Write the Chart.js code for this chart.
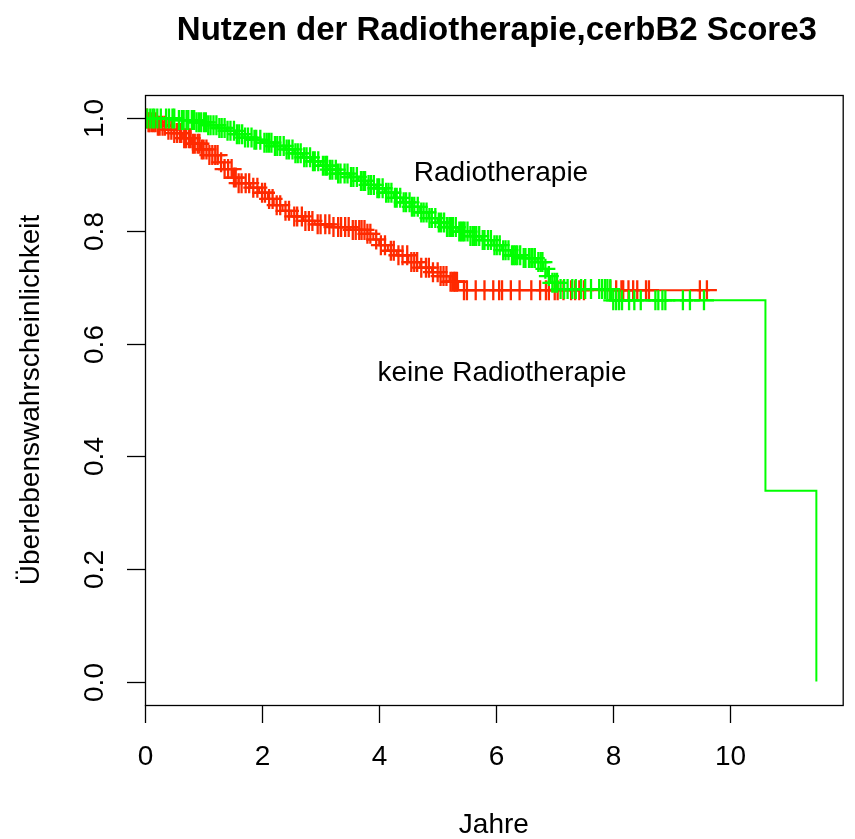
<!DOCTYPE html>
<html>
<head>
<meta charset="utf-8">
<script src="https://cdn.jsdelivr.net/npm/chart.js@4.4.1/dist/chart.umd.min.js"></script>
<style>
  html, body { margin: 0; padding: 0; background: #fff; }
  #wrap { width: 855px; height: 839px; }
</style>
</head>
<body>
<div id="wrap"><canvas id="km" width="855" height="839"></canvas></div>
<script>
// Kaplan-Meier steps (time in years, survival)
const radioTimes = [0, 0.55, 0.85, 1.05, 1.25, 1.4, 1.55, 1.7, 1.85, 2.0, 2.2, 2.4, 2.55, 2.7, 2.85, 3.0, 3.15, 3.3, 3.5, 3.65, 3.8, 3.95, 4.1, 4.25, 4.4, 4.55, 4.7, 4.85, 5.0, 5.15, 5.35, 5.55, 5.75, 5.95, 6.1, 6.25, 6.45, 6.7, 6.8, 6.87, 6.93, 7.05, 7.97, 10.6, 11.47];
const radioSurv  = [1.0, 0.997, 0.993, 0.988, 0.983, 0.978, 0.972, 0.966, 0.962, 0.957, 0.951, 0.945, 0.938, 0.931, 0.924, 0.916, 0.909, 0.902, 0.896, 0.889, 0.882, 0.876, 0.868, 0.859, 0.851, 0.843, 0.833, 0.823, 0.815, 0.807, 0.799, 0.791, 0.784, 0.775, 0.766, 0.757, 0.752, 0.745, 0.733, 0.72, 0.708, 0.697, 0.677, 0.339, 0.0];

const noRadioTimes = [0, 0.05, 0.2, 0.35, 0.5, 0.65, 0.8, 0.95, 1.1, 1.25, 1.35, 1.5, 1.6, 1.8, 1.95, 2.1, 2.2, 2.35, 2.5, 2.7, 2.9, 3.2, 3.5, 3.8, 3.9, 4.0, 4.15, 4.3, 4.5, 4.7, 4.9, 5.05, 5.2, 5.35, 9.6];
const noRadioSurv  = [1.0, 0.993, 0.987, 0.98, 0.974, 0.965, 0.955, 0.945, 0.935, 0.922, 0.91, 0.895, 0.885, 0.877, 0.868, 0.857, 0.846, 0.836, 0.826, 0.818, 0.812, 0.807, 0.802, 0.795, 0.785, 0.775, 0.765, 0.757, 0.745, 0.735, 0.727, 0.72, 0.71, 0.695, 0.695];

// censored observations (the "+" marks)
const radioCensor = [0.04, 0.09, 0.13, 0.16, 0.21, 0.27, 0.36, 0.41, 0.47, 0.5, 0.58, 0.63, 0.66, 0.71, 0.74, 0.8, 0.84, 0.88, 0.92, 0.96, 1.01, 1.04, 1.08, 1.12, 1.17, 1.22, 1.27, 1.31, 1.36, 1.41, 1.46, 1.52, 1.57, 1.61, 1.66, 1.71, 1.76, 1.82, 1.87, 1.9, 1.97, 2.04, 2.08, 2.12, 2.16, 2.22, 2.26, 2.31, 2.37, 2.42, 2.46, 2.52, 2.57, 2.61, 2.66, 2.72, 2.76, 2.82, 2.87, 2.9, 2.96, 3.04, 3.08, 3.11, 3.16, 3.2, 3.26, 3.3, 3.34, 3.41, 3.46, 3.52, 3.56, 3.62, 3.69, 3.73, 3.76, 3.82, 3.86, 3.91, 3.97, 4.0, 4.06, 4.12, 4.16, 4.21, 4.27, 4.3, 4.36, 4.42, 4.46, 4.52, 4.56, 4.6, 4.66, 4.72, 4.76, 4.81, 4.86, 4.9, 4.96, 5.02, 5.06, 5.11, 5.16, 5.2, 5.23, 5.26, 5.31, 5.37, 5.4, 5.43, 5.46, 5.51, 5.56, 5.6, 5.63, 5.66, 5.71, 5.77, 5.8, 5.86, 5.91, 5.97, 6.01, 6.06, 6.12, 6.16, 6.21, 6.27, 6.3, 6.33, 6.36, 6.41, 6.47, 6.5, 6.56, 6.6, 6.62, 6.66, 6.72, 6.76, 6.79, 6.84, 6.9, 6.96, 7.0, 7.04, 7.1, 7.16, 7.22, 7.3, 7.36, 7.45, 7.52, 7.62, 7.76, 7.81, 7.86, 7.9, 7.95, 8.0, 8.05, 8.1, 8.15, 8.27, 8.36, 8.47, 8.72, 8.77, 8.84, 8.89, 9.19, 9.31, 9.55];
const noRadioCensor = [0.03, 0.06, 0.08, 0.12, 0.15, 0.18, 0.22, 0.25, 0.3, 0.34, 0.4, 0.45, 0.5, 0.55, 0.6, 0.62, 0.67, 0.7, 0.75, 0.78, 0.82, 0.85, 0.9, 0.93, 0.97, 1.0, 1.05, 1.1, 1.15, 1.2, 1.24, 1.3, 1.36, 1.42, 1.48, 1.52, 1.55, 1.6, 1.65, 1.72, 1.78, 1.85, 1.92, 2.0, 2.05, 2.12, 2.18, 2.25, 2.31, 2.4, 2.46, 2.55, 2.6, 2.68, 2.74, 2.8, 2.86, 2.95, 3.0, 3.08, 3.15, 3.22, 3.3, 3.35, 3.42, 3.48, 3.55, 3.6, 3.66, 3.7, 3.75, 3.8, 3.85, 3.95, 4.03, 4.1, 4.2, 4.25, 4.33, 4.4, 4.48, 4.55, 4.6, 4.65, 4.72, 4.8, 4.85, 4.92, 5.0, 5.05, 5.1, 5.15, 5.22, 5.25, 5.28, 5.3, 5.33, 5.45, 5.5, 5.65, 5.8, 5.95, 6.05, 6.1, 6.25, 6.4, 6.6, 6.75, 6.85, 6.9, 7.0, 7.05, 7.15, 7.28, 7.35, 7.42, 7.5, 7.95, 8.05, 8.14, 8.17, 8.26, 8.34, 8.41, 8.56, 8.61, 9.48, 9.6];

const xTicks = [0, 2, 4, 6, 8, 10];
const yTicks = [0, 0.2, 0.4, 0.6, 0.8, 1.0];
const yTickLabels = ['0.0', '0.2', '0.4', '0.6', '0.8', '1.0'];

const GREEN = '#00ff00';
const RED = '#ff2a00';

function steps(times, surv) {
  return times.map((t, i) => ({ x: t, y: surv[i] }));
}
// survival value of the step curve at time t
function survAt(times, surv, t) {
  let s = surv[0];
  for (let i = 0; i < times.length; i++) {
    if (times[i] <= t) s = surv[i];
  }
  return s;
}
function marks(cens, times, surv) {
  return cens.map(t => ({ x: t, y: survAt(times, surv, t) }));
}

const FONT = '"Liberation Sans", Arial, sans-serif';

const rAxes = {
  id: 'rAxes',
  beforeDraw(chart) {
    const c = chart.ctx;
    c.save();
    c.fillStyle = '#fff';
    c.fillRect(0, 0, chart.width, chart.height);
    c.restore();
  },
  afterDraw(chart) {
    const c = chart.ctx;
    const a = chart.chartArea;
    const xs = chart.scales.x, ys = chart.scales.y;
    c.save();
    c.strokeStyle = '#000';
    c.lineWidth = 1.3;
    c.strokeRect(a.left + 0.5, a.top + 0.5, a.right - a.left, a.bottom - a.top);

    c.fillStyle = '#000';
    c.font = '28px ' + FONT;
    // x axis
    c.textAlign = 'center';
    c.textBaseline = 'middle';
    xTicks.forEach(v => {
      const px = Math.round(xs.getPixelForValue(v)) + 0.5;
      c.beginPath();
      c.moveTo(px, a.bottom);
      c.lineTo(px, a.bottom + 18);
      c.stroke();
      c.fillText(String(v), px, 757);
    });
    // y axis, labels turned like R does
    yTicks.forEach((v, i) => {
      const py = Math.round(ys.getPixelForValue(v)) + 0.5;
      c.beginPath();
      c.moveTo(a.left, py);
      c.lineTo(a.left - 18, py);
      c.stroke();
      c.save();
      c.translate(95, py);
      c.rotate(-Math.PI / 2);
      c.fillText(yTickLabels[i], 0, 0);
      c.restore();
    });

    // axis titles
    const mid = (a.left + a.right) / 2;
    c.fillText('Jahre', mid, 825);
    c.save();
    c.translate(31, (a.top + a.bottom) / 2);
    c.rotate(-Math.PI / 2);
    c.fillText('Überlebenswahrscheinlichkeit', 0, 0);
    c.restore();

    // group labels
    c.fillText('Radiotherapie', 501, 173);
    c.fillText('keine Radiotherapie', 502, 373);

    // main title
    c.font = 'bold 33px ' + FONT;
    c.fillText('Nutzen der Radiotherapie,cerbB2 Score3', mid + 3, 31);
    c.restore();
  }
};

new Chart(document.getElementById('km'), {
  type: 'scatter',
  data: {
    datasets: [
      {
        label: 'Radiotherapie',
        data: steps(radioTimes, radioSurv),
        showLine: true,
        stepped: 'before',
        borderColor: GREEN,
        borderWidth: 2,
        pointRadius: 0,
        order: 0
      },
      {
        label: 'Radiotherapie zensiert',
        data: marks(radioCensor, radioTimes, radioSurv),
        showLine: false,
        pointStyle: 'cross',
        pointRadius: 10,
        borderColor: GREEN,
        borderWidth: 2.3,
        order: 0
      },
      {
        label: 'keine Radiotherapie',
        data: steps(noRadioTimes, noRadioSurv),
        showLine: true,
        stepped: 'before',
        borderColor: RED,
        borderWidth: 2,
        pointRadius: 0,
        order: 1
      },
      {
        label: 'keine Radiotherapie zensiert',
        data: marks(noRadioCensor, noRadioTimes, noRadioSurv),
        showLine: false,
        pointStyle: 'cross',
        pointRadius: 10,
        borderColor: RED,
        borderWidth: 2.3,
        order: 1
      }
    ]
  },
  options: {
    responsive: false,
    animation: false,
    layout: { padding: { left: 145, right: 1, top: 95, bottom: 134 } },
    scales: {
      x: { type: 'linear', min: 0, max: 11.92, display: false },
      y: { type: 'linear', min: -0.0416, max: 1.0416, display: false }
    },
    plugins: {
      legend: { display: false },
      tooltip: { enabled: false },
      title: { display: false }
    },
    elements: { point: { hoverRadius: 10 } }
  },
  plugins: [rAxes]
});
</script>
</body>
</html>
